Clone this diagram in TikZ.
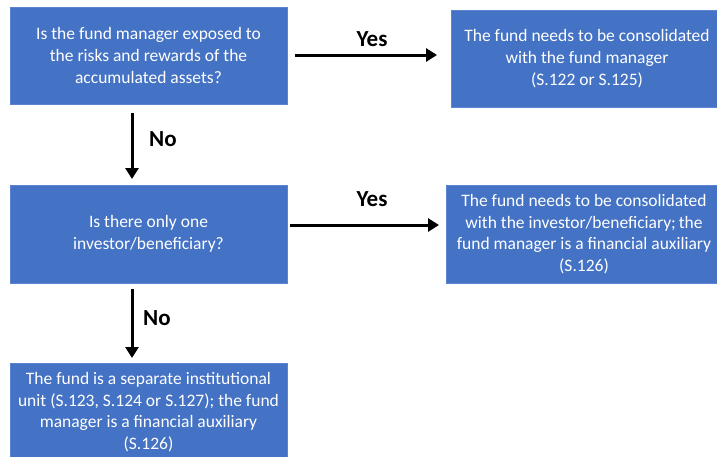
\documentclass[tikz,border=0pt]{standalone}
\usepackage{fontspec}
\setmainfont{Carlito}
\usetikzlibrary{arrows.meta}
\definecolor{boxblue}{HTML}{4472C4}
\definecolor{boxedge}{HTML}{5B85D0}
\tikzset{
  box/.style={draw=boxedge, line width=0.8pt, fill=boxblue, text=white, align=center,
    font=\fontsize{17.5}{21.7}\selectfont, inner sep=0pt},
  flow/.style={line width=3pt, -{Triangle[length=11pt,width=13pt]}},
  lbl/.style={font=\fontsize{23}{25}\selectfont\bfseries, text=black, inner sep=0pt}
}
\begin{document}
\begin{tikzpicture}[x=1pt,y=-1pt]
\useasboundingbox (0,0) rectangle (717,456);
\begin{scope}
\clip (0,0) rectangle (717,456);
\node[box, minimum width=277pt, minimum height=97pt] (q1) at (148.5,55.5)
  {Is the fund manager exposed to\\the risks and rewards of the\\accumulated assets?};
\node[box, minimum width=272pt, minimum height=97pt] (r1) at (587,58.5)
  {The fund needs to be consolidated\\with the fund manager\\(S.122 or S.125)};
\node[box, minimum width=277pt, minimum height=98pt] (q2) at (148.5,234)
  {Is there only one\\investor/beneficiary?};
\node[box, minimum width=276pt, minimum height=98pt] (r2) at (584,234)
  {The fund needs to be consolidated\\with the investor/beneficiary;\,the\\fund manager is a financial auxiliary\\(S.126)};
\node[box, minimum width=277pt, minimum height=98pt] (r3) at (148.5,412)
  {The fund is a separate institutional\\unit (S.123, S.124 or S.127); the fund\\manager is a financial auxiliary\\(S.126)};
\end{scope}
\coordinate (a1s) at (295,55);
\coordinate (a1e) at (437,55);
\coordinate (a2s) at (132,113);
\coordinate (a2e) at (132,179);
\coordinate (a3s) at (290,225);
\coordinate (a3e) at (439,225);
\coordinate (a4s) at (132,289);
\coordinate (a4e) at (132,358);
\draw[flow] (a1s) -- (a1e);
\draw[flow] (a2s) -- (a2e);
\draw[flow] (a3s) -- (a3e);
\draw[flow] (a4s) -- (a4e);
\node[lbl] (y1) at (372,39) {Yes};
\node[lbl] (n1) at (163,139) {No};
\node[lbl] (y2) at (372,199) {Yes};
\node[lbl] (n2) at (157,318) {No};
\end{tikzpicture}
\end{document}
